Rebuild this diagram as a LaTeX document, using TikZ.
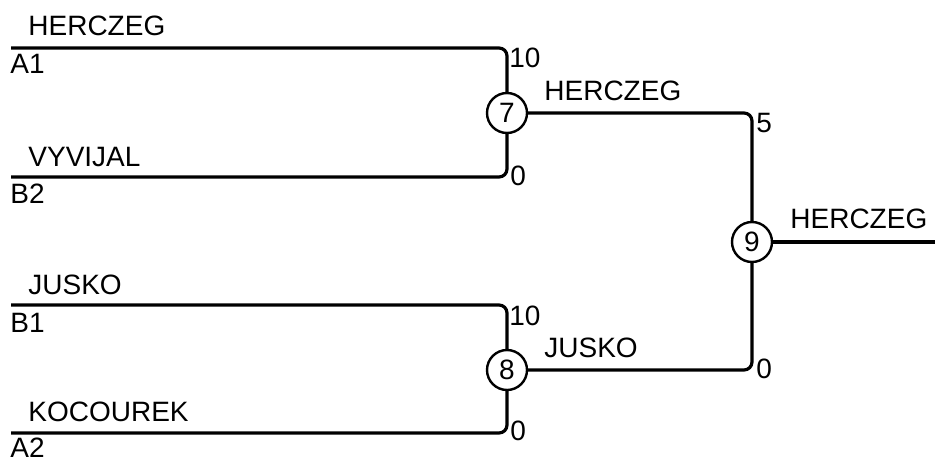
\documentclass[tikz,border=0pt]{standalone}
\usepackage{fontspec}
\setmainfont{Liberation Sans}
\begin{document}
\begin{tikzpicture}[x={(0.5pt,0pt)},y={(0pt,-0.5pt)},font=\fontsize{14}{16}\selectfont]
  \tikzstyle{match}=[circle, draw, line width=1.2pt, minimum size=20pt, inner sep=0pt, fill=white]
  \tikzstyle{wire}=[line width=1.6pt, rounded corners=4pt]
  \tikzstyle{lbl}=[anchor=base west, inner sep=0pt]

  \useasboundingbox (0,0) rectangle (935,460);

  \node[match] (m7) at (507, 113) {7};
  \node[match] (m8) at (507, 370) {8};
  \node[match] (m9) at (752, 242) {9};

  \coordinate (a1)  at (11,  48);
  \coordinate (b2)  at (11,  177);
  \coordinate (b1)  at (11,  305);
  \coordinate (a2)  at (11,  433);
  \coordinate (out) at (935, 242);

  \draw[wire] (a1) -| (m7);
  \draw[wire] (b2) -| (m7);
  \draw[wire] (b1) -| (m8);
  \draw[wire] (a2) -| (m8);
  \draw[wire] (m7) -| (m9);
  \draw[wire] (m8) -| (m9);
  \draw[wire] (m9) -- (out);

  \node[lbl] (t1) at (28, 36)  {HERCZEG};
  \node[lbl] (s1) at (10, 74)  {A1};
  \node[lbl] (t2) at (28, 166) {VYVIJAL};
  \node[lbl] (s2) at (10, 203) {B2};
  \node[lbl] (t3) at (28, 294) {JUSKO};
  \node[lbl] (s3) at (10, 332) {B1};
  \node[lbl] (t4) at (28, 421) {KOCOUREK};
  \node[lbl] (s4) at (10, 457) {A2};

  \node[lbl] (w7) at (544, 100) {HERCZEG};
  \node[lbl] (w8) at (544, 357) {JUSKO};
  \node[lbl] (w9) at (790, 228) {HERCZEG};

  \node[lbl] (p1) at (509, 68)  {10};
  \node[lbl] (p2) at (510, 185) {0};
  \node[lbl] (p3) at (509, 325) {10};
  \node[lbl] (p4) at (510, 440) {0};
  \node[lbl] (p5) at (756, 132) {5};
  \node[lbl] (p6) at (756, 378) {0};

\end{tikzpicture}
\end{document}
